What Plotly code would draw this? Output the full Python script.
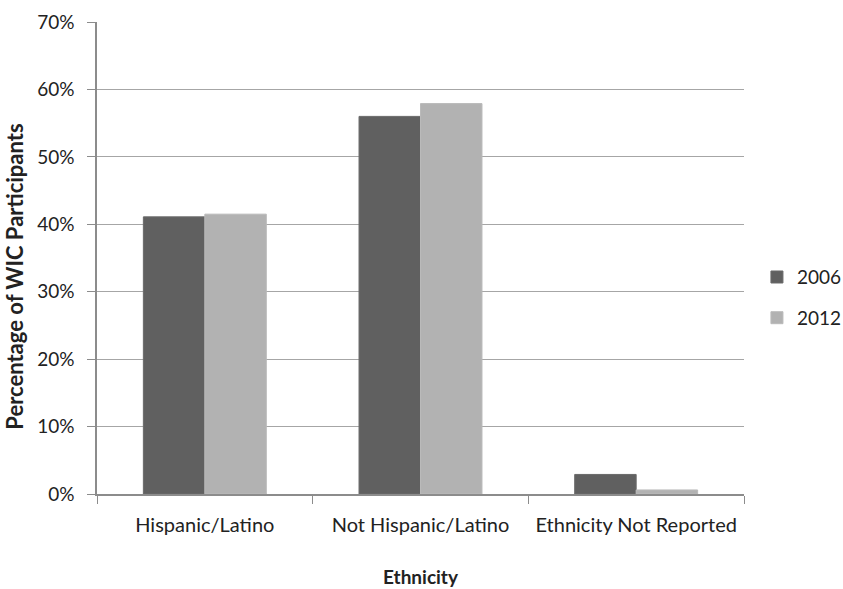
import plotly.graph_objects as go

categories = ["Hispanic/Latino", "Not Hispanic/Latino", "Ethnicity Not Reported"]
share_2006 = [41.1, 56.0, 2.9]
share_2012 = [41.5, 57.9, 0.6]
y_ticks = [0, 10, 20, 30, 40, 50, 60, 70]
y_tick_labels = [f"{v}%" for v in y_ticks]

FONT = "Lato"
TEXT = "#222222"

fig = go.Figure()
fig.add_trace(go.Bar(
    x=categories, y=share_2006, name="2006", legendgroup="a",
    marker=dict(color="#606060", line=dict(color="#6a6a6a", width=1)),
))
fig.add_trace(go.Bar(
    x=categories, y=share_2012, name="2012", legendgroup="b",
    marker=dict(color="#b2b2b2", line=dict(color="#bababa", width=1)),
))

fig.update_layout(
    width=843, height=589,
    margin=dict(l=97, r=99, t=22, b=95, autoexpand=False),
    paper_bgcolor="white", plot_bgcolor="white",
    barmode="group", bargap=0.43, bargroupgap=0,
    font=dict(family=FONT, size=20, color=TEXT),
    showlegend=True,
    legend=dict(
        x=1.02, y=0.416, xanchor="left", yanchor="middle",
        font=dict(family=FONT, size=19, color=TEXT),
        itemwidth=30, traceorder="grouped", tracegroupgap=13,
        bgcolor="rgba(0,0,0,0)",
    ),
    xaxis=dict(
        showline=True, linecolor="#8c8c8c", linewidth=1.5,
        ticks="outside", tickson="boundaries", ticklen=8, tickcolor="#8c8c8c",
        showgrid=False, ticklabelstandoff=12,
        tickfont=dict(family=FONT, size=20, color=TEXT),
        title=dict(text="<b>Ethnicity</b>", font=dict(family=FONT, size=19, color=TEXT), standoff=36),
    ),
    yaxis=dict(
        range=[0, 70], tickvals=y_ticks, ticktext=y_tick_labels,
        showline=True, linecolor="#8c8c8c", linewidth=1.5,
        ticks="outside", ticklen=8, tickcolor="#8c8c8c",
        showgrid=True, gridcolor="#a6a6a6", gridwidth=1.2,
        zeroline=False, ticklabelstandoff=9,
        tickfont=dict(family=FONT, size=19, color=TEXT),
    ),
    annotations=[dict(
        text="<b>Percentage of WIC Participants</b>",
        xref="paper", yref="paper", x=-0.127, y=0.46,
        xanchor="center", yanchor="middle", textangle=-90,
        showarrow=False, font=dict(family=FONT, size=22, color=TEXT),
    )],
)

fig.write_html("out.html")
